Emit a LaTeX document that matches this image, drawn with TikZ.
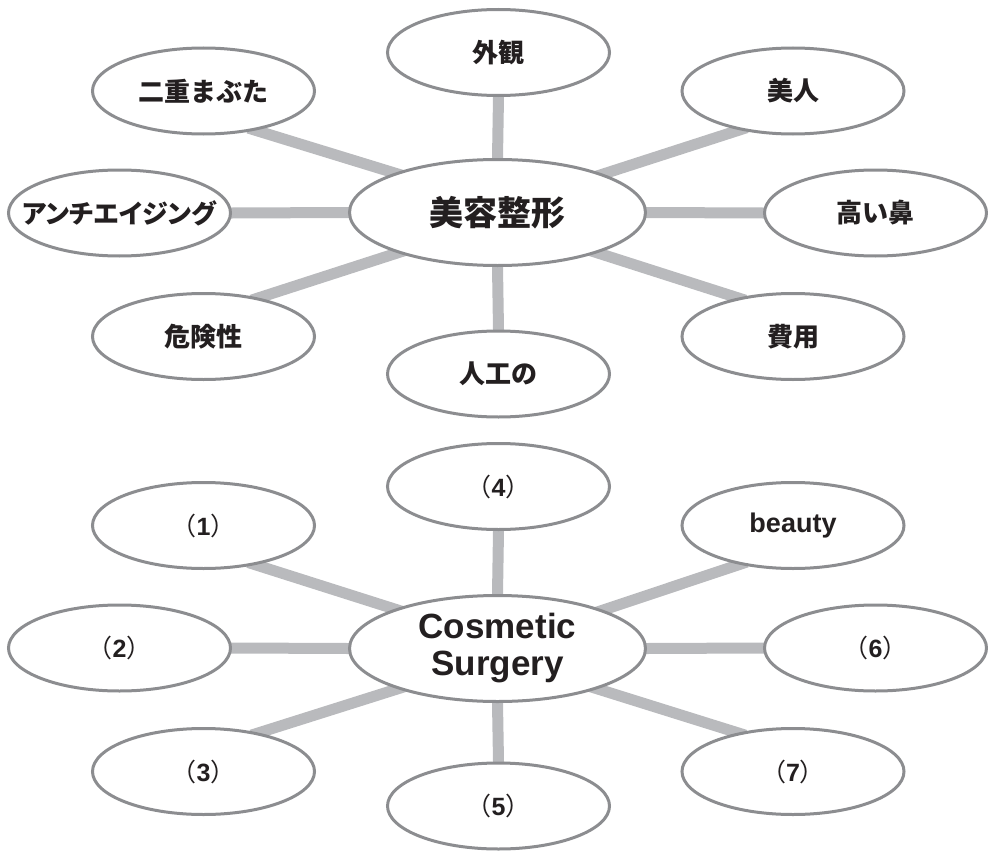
\documentclass[tikz,border=0pt]{standalone}
\usepackage{fontspec}
\setmainfont{Liberation Sans}
\newfontfamily\jp{Noto Sans CJK JP}
\newfontfamily\jpp{Noto Sans CJK JP}[RawFeature=+palt]
\newfontfamily\jph{Noto Sans CJK JP}[RawFeature=+halt]
\usetikzlibrary{shapes.geometric,backgrounds}
\definecolor{linec}{RGB}{185,186,189}
\definecolor{edgec}{RGB}{140,141,144}
\definecolor{txt}{RGB}{35,31,32}
\newcommand{\numlab}[1]{{\jph （}\textbf{#1}{\jph ）}}
\begin{document}
\begin{tikzpicture}[x=1pt,y=-1pt,
  bub/.style={ellipse, draw=edgec, line width=3pt, fill=white, minimum width=222pt, minimum height=86pt, inner sep=0pt, text=txt, font={\jp\bfseries\fontsize{26}{30}\selectfont}},
  hub/.style={bub, minimum width=296pt, minimum height=106pt, font={\jp\bfseries\fontsize{34}{38}\selectfont}},
  enhub/.style={hub, align=center, font={\bfseries\fontsize{35}{37}\selectfont}},
  num/.style={bub, font={\fontsize{25}{28}\selectfont}},
  enbub/.style={bub, font={\bfseries\fontsize{27}{30}\selectfont}},
  link/.style={draw=linec, line width=11pt, shorten <=-8pt, shorten >=-8pt}]
\useasboundingbox (0,0) rectangle (988,851);
% top map
\node[hub] (c1) at (497.5,212.5) {美容整形};
\node[bub] (t1) at (498.5,52.5) {外観};
\node[bub] (t2) at (203.5,91) {二重まぶた};
\node[bub] (t3) at (793,91) {美人};
\node[bub, font={\jpp\bfseries\fontsize{26}{30}\selectfont}] (t4) at (119.5,213) {\makebox[0pt]{アンチエイジング}};
\node[bub] (t5) at (875.5,213) {高い鼻};
\node[bub] (t6) at (203.5,336.5) {危険性};
\node[bub] (t7) at (793,336.5) {費用};
\node[bub] (t8) at (498.5,374) {人工の};
% bottom map
\node[enhub] (c2) at (497.5,648.5) {Cosmetic\\Surgery};
\node[num] (b4) at (498.5,486.5) {\numlab{4}};
\node[num] (b1) at (203.5,525.5) {\numlab{1}};
\node[enbub] (b9) at (793,525.5) {beauty};
\node[num] (b2) at (119.5,648) {\numlab{2}};
\node[num] (b6) at (875.5,648) {\numlab{6}};
\node[num] (b3) at (203.5,771.5) {\numlab{3}};
\node[num] (b7) at (793,771.5) {\numlab{7}};
\node[num] (b5) at (498.5,806) {\numlab{5}};
\begin{scope}[on background layer]
  \draw[link] (t1.south) -- (c1.north);
  \draw[link] (c1.south) -- (t8.north);
  \draw[link] (t4.east) -- (c1.west);
  \draw[link] (c1.east) -- (t5.west);
  \draw[link] (t2.-37) -- (c1.159.5);
  \draw[link] (t3.-144) -- (c1.20.5);
  \draw[link] (t6.35) -- (c1.202);
  \draw[link] (t7.145) -- (c1.-22);
  \draw[link] (b4.south) -- (c2.north);
  \draw[link] (c2.south) -- (b5.north);
  \draw[link] (b2.east) -- (c2.west);
  \draw[link] (c2.east) -- (b6.west);
  \draw[link] (b1.-37) -- (c2.159.5);
  \draw[link] (b9.-144) -- (c2.20.5);
  \draw[link] (b3.35) -- (c2.202);
  \draw[link] (b7.145) -- (c2.-22);
\end{scope}
\end{tikzpicture}
\end{document}
